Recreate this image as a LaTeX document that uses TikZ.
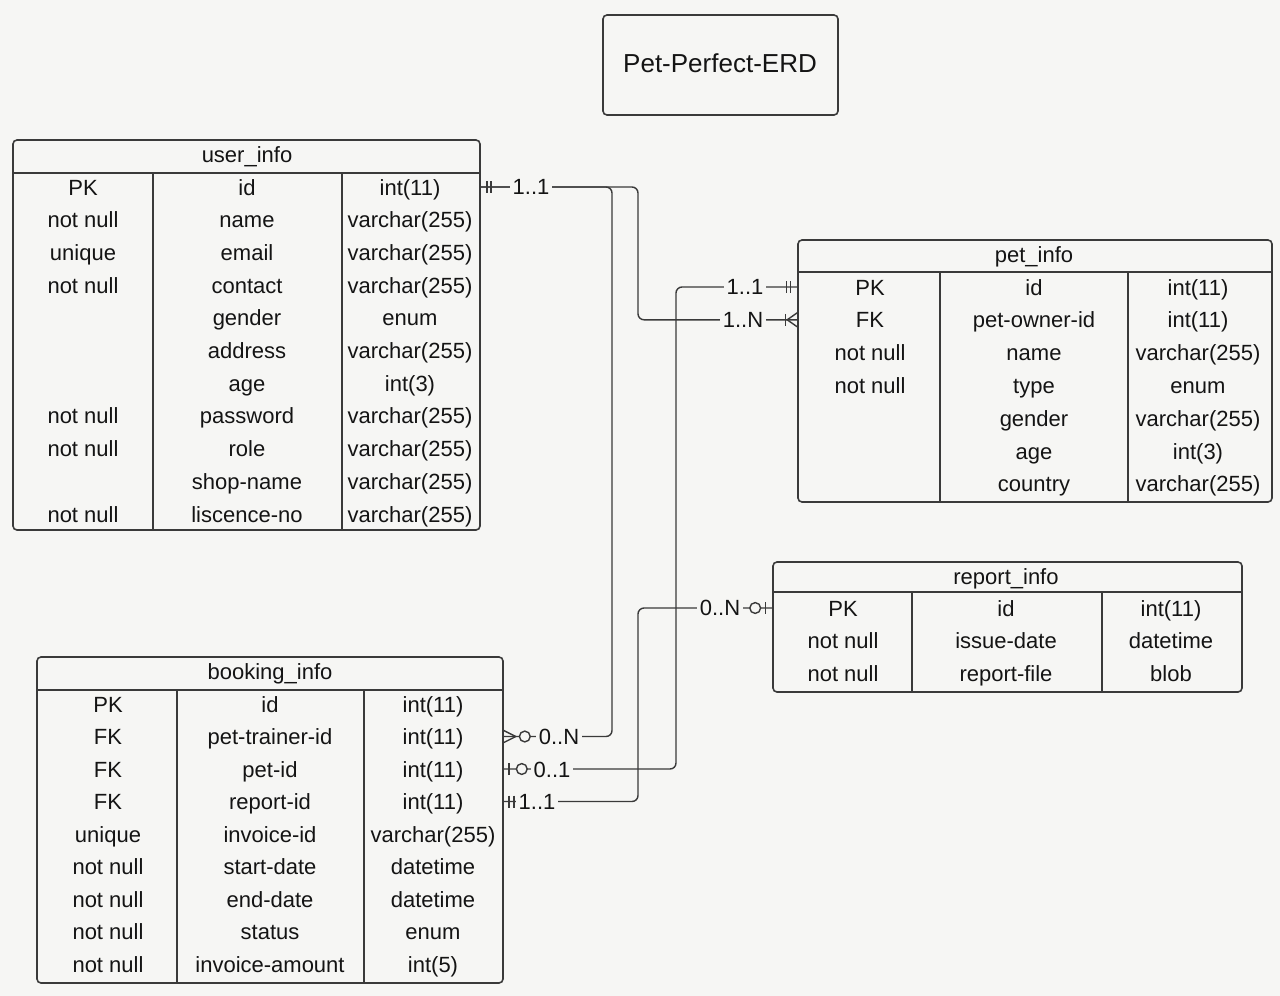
\documentclass[tikz,border=0pt]{standalone}
\usepackage{fontspec}
\setmainfont{Liberation Sans}
\usetikzlibrary{fit}
\definecolor{bg}{HTML}{F6F6F4}
\definecolor{ink}{HTML}{141414}
\definecolor{edge}{HTML}{3A3A3A}
\tikzset{
  cell/.style={font=\fontsize{11}{13}\selectfont, text=ink, inner sep=0pt, text height=10pt, text depth=2pt, anchor=center},
  tbl/.style={draw=edge, line width=0.8pt, rounded corners=2pt, inner sep=0pt},
  rule/.style={draw=edge, line width=0.8pt},
  conn/.style={draw=edge, line width=0.7pt, rounded corners=3pt},
  card/.style={font=\fontsize{11}{13}\selectfont, text=ink, fill=bg, inner xsep=1.5pt, inner ysep=0pt, text height=7.8pt, text depth=0pt},
  mk/.style={draw=edge, line width=0.7pt},
  titlebox/.style={draw=edge, line width=0.8pt, rounded corners=2pt, inner sep=0pt},
}
\begin{document}
\begin{tikzpicture}[x=0.5pt, y=-0.5pt]
\fill[bg] (0,0) rectangle (1280,996);
\useasboundingbox (0,0) rectangle (1280,996);

% title
\coordinate (t-nw) at (603,15);
\coordinate (t-se) at (838,115);
\node[titlebox, fit=(t-nw)(t-se)] (title) {};
\node[cell, font=\fontsize{13}{15}\selectfont, text height=11pt, text depth=2.5pt] (titletext) at (720,64) {Pet-Perfect-ERD};

% ---------- user_info ----------
\coordinate (u-nw) at (13,140);
\coordinate (u-se) at (480,530);
\node[tbl, fit=(u-nw)(u-se)] (user) {};
\draw[rule] (13,173) -- (480,173);
\draw[rule] (153,173) -- (153,530);
\draw[rule] (342,173) -- (342,530);
\node[cell] (u-h) at (247,154) {user\_info};
\foreach \k/\n/\t [count=\i] in {PK/id/int(11), not null/name/varchar(255), unique/email/varchar(255), not null/contact/varchar(255), {}/gender/enum, {}/address/varchar(255), {}/age/int(3), not null/password/varchar(255), not null/role/varchar(255), {}/shop-name/varchar(255), not null/liscence-no/varchar(255)} {
  \node[cell] (u-k\i) at (83,{187+32.7*(\i-1)}) {\k};
  \node[cell] (u-n\i) at (247,{187+32.7*(\i-1)}) {\n};
  \node[cell] (u-t\i) at (410,{187+32.7*(\i-1)}) {\t};
}

% ---------- pet_info ----------
\coordinate (p-nw) at (798,240);
\coordinate (p-se) at (1272,502);
\node[tbl, fit=(p-nw)(p-se)] (pet) {};
\draw[rule] (798,272) -- (1272,272);
\draw[rule] (940,272) -- (940,502);
\draw[rule] (1128,272) -- (1128,502);
\node[cell] (p-h) at (1034,254) {pet\_info};
\foreach \k/\n/\t [count=\i] in {PK/id/int(11), FK/pet-owner-id/int(11), not null/name/varchar(255), not null/type/enum, {}/gender/varchar(255), {}/age/int(3), {}/country/varchar(255)} {
  \node[cell] (p-k\i) at (870,{287+32.8*(\i-1)}) {\k};
  \node[cell] (p-n\i) at (1034,{287+32.8*(\i-1)}) {\n};
  \node[cell] (p-t\i) at (1198,{287+32.8*(\i-1)}) {\t};
}

% ---------- report_info ----------
\coordinate (r-nw) at (773,562);
\coordinate (r-se) at (1242,692);
\node[tbl, fit=(r-nw)(r-se)] (report) {};
\draw[rule] (773,592) -- (1242,592);
\draw[rule] (912,592) -- (912,692);
\draw[rule] (1102,592) -- (1102,692);
\node[cell] (r-h) at (1006,576) {report\_info};
\foreach \k/\n/\t [count=\i] in {PK/id/int(11), not null/issue-date/datetime, not null/report-file/blob} {
  \node[cell] (r-k\i) at (843,{608+32.5*(\i-1)}) {\k};
  \node[cell] (r-n\i) at (1006,{608+32.5*(\i-1)}) {\n};
  \node[cell] (r-t\i) at (1171,{608+32.5*(\i-1)}) {\t};
}

% ---------- booking_info ----------
\coordinate (b-nw) at (37,657);
\coordinate (b-se) at (503,983);
\node[tbl, fit=(b-nw)(b-se)] (booking) {};
\draw[rule] (37,690) -- (503,690);
\draw[rule] (177,690) -- (177,983);
\draw[rule] (364,690) -- (364,983);
\node[cell] (b-h) at (270,671) {booking\_info};
\foreach \k/\n/\t [count=\i] in {PK/id/int(11), FK/pet-trainer-id/int(11), FK/pet-id/int(11), FK/report-id/int(11), unique/invoice-id/varchar(255), not null/start-date/datetime, not null/end-date/datetime, not null/status/enum, not null/invoice-amount/int(5)} {
  \node[cell] (b-k\i) at (108,{704+32.5*(\i-1)}) {\k};
  \node[cell] (b-n\i) at (270,{704+32.5*(\i-1)}) {\n};
  \node[cell] (b-t\i) at (433,{704+32.5*(\i-1)}) {\t};
}

% ---------- connector end points ----------
\coordinate (uidE) at (user.east |- u-k1);
\coordinate (pidW) at (pet.west |- p-k1);
\coordinate (pfkW) at (pet.west |- p-k2);
\coordinate (ridW) at (report.west |- r-k1);
\coordinate (bptE) at (booking.east |- b-k2);
\coordinate (bpiE) at (booking.east |- b-k3);
\coordinate (brpE) at (booking.east |- b-k4);
\coordinate (jA) at (612,0);
\coordinate (jB) at (638,0);
\coordinate (jC) at (676,0);

% ---------- connectors ----------
\draw[conn] (uidE) -| (jA |- bptE) -- (bptE);
\draw[conn] (uidE) -| (jB |- pfkW) -- (pfkW);
\draw[conn] (pidW) -| (jC |- bpiE) -- (bpiE);
\draw[conn] (ridW) -| (jB |- brpE) -- (brpE);

% ---------- markers ----------
% user_info id : one and only one
\draw[mk] (uidE) ++(6,-6) -- ++(0,12);
\draw[mk] (uidE) ++(10,-6) -- ++(0,12);
% pet_info id : one and only one
\draw[mk] (pidW) ++(-7,-6) -- ++(0,12);
\draw[mk] (pidW) ++(-11,-6) -- ++(0,12);
% pet_info pet-owner-id : one or many
\draw[mk] (pfkW) ++(-12,-6) -- ++(0,12);
\draw[mk] (pfkW) ++(0,-7) -- ++(-10,7) -- ++(10,7);
% booking pet-trainer-id : zero or many
\draw[mk] (bptE) ++(0,-6) -- ++(12,6) -- ++(-12,6);
\draw[mk, fill=bg] (bptE) ++(21,0) circle[radius=2.7pt];
% booking pet-id : zero or one
\draw[mk] (bpiE) ++(5,-6) -- ++(0,12);
\draw[mk, fill=bg] (bpiE) ++(18,0) circle[radius=2.7pt];
% booking report-id : one and only one
\draw[mk] (brpE) ++(5,-6) -- ++(0,12);
\draw[mk] (brpE) ++(10,-6) -- ++(0,12);
% report_info id : zero or one
\draw[mk] (ridW) ++(-7,-6) -- ++(0,12);
\draw[mk, fill=bg] (ridW) ++(-17,0) circle[radius=2.7pt];

% ---------- cardinality labels ----------
\node[card] (c-u) at (531,187) {1..1};
\node[card] (c-bpt) at (559,737) {0..N};
\node[card] (c-pfk) at (743,320) {1..N};
\node[card] (c-pid) at (745,287) {1..1};
\node[card] (c-bpi) at (552,770) {0..1};
\node[card] (c-brp) at (537,802) {1..1};
\node[card] (c-rid) at (720,608) {0..N};
\end{tikzpicture}
\end{document}
